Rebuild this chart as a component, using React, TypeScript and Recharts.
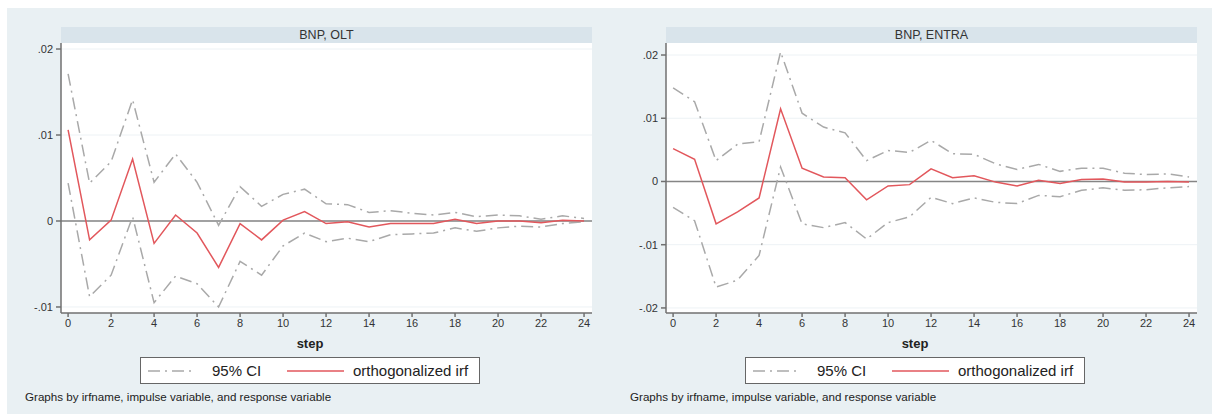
import React from 'react';
import { LineChart, Line, XAxis, YAxis, CartesianGrid, ReferenceLine } from 'recharts';

const steps = [0, 1, 2, 3, 4, 5, 6, 7, 8, 9, 10, 11, 12, 13, 14, 15, 16, 17, 18, 19, 20, 21, 22, 23, 24];
const stepTicks = [0, 2, 4, 6, 8, 10, 12, 14, 16, 18, 20, 22, 24];

// BNP -> OLT
const oltUpper = [0.0171, 0.0044, 0.0069, 0.0141, 0.0045, 0.0078, 0.0045, -0.0005, 0.004, 0.0017, 0.0031, 0.0037, 0.002, 0.0019, 0.001, 0.0012, 0.0009, 0.0007, 0.001, 0.0005, 0.0007, 0.0006, 0.0002, 0.0006, 0.0003];
const oltLower = [0.0044, -0.0088, -0.0063, 0.0005, -0.0095, -0.0064, -0.0073, -0.01, -0.0047, -0.0063, -0.0029, -0.0014, -0.0024, -0.002, -0.0024, -0.0016, -0.0015, -0.0014, -0.0008, -0.0012, -0.0008, -0.0006, -0.0007, -0.0003, -0.0001];
const oltIrf = [0.0106, -0.0022, 0.0001, 0.0072, -0.0026, 0.0007, -0.0014, -0.0054, -0.0003, -0.0022, 0.0001, 0.0011, -0.0003, -0.0001, -0.0007, -0.0003, -0.0003, -0.0003, 0.0002, -0.0003, 0, 0, -0.0002, 0.0001, 0];
const oltTicks = [-0.01, 0, 0.01, 0.02];

// BNP -> ENTRA
const entraUpper = [0.0148, 0.0126, 0.0033, 0.0059, 0.0063, 0.0205, 0.0108, 0.0086, 0.0077, 0.0033, 0.0049, 0.0046, 0.0065, 0.0044, 0.0043, 0.0028, 0.0019, 0.0027, 0.0016, 0.0021, 0.0021, 0.0013, 0.0011, 0.0012, 0.0007];
const entraLower = [-0.0041, -0.0062, -0.0167, -0.0156, -0.0117, 0.0023, -0.0067, -0.0073, -0.0065, -0.0091, -0.0065, -0.0056, -0.0025, -0.0035, -0.0026, -0.0033, -0.0035, -0.0022, -0.0024, -0.0014, -0.001, -0.0014, -0.0013, -0.001, -0.0008];
const entraIrf = [0.0052, 0.0035, -0.0067, -0.0048, -0.0026, 0.0115, 0.0021, 0.0007, 0.0006, -0.0029, -0.0007, -0.0005, 0.002, 0.0006, 0.0009, -0.0001, -0.0007, 0.0002, -0.0003, 0.0003, 0.0004, -0.0001, -0.0001, 0, -0.0001];
const entraTicks = [-0.02, -0.01, 0, 0.01, 0.02];

const FONT = '"Liberation Sans", Arial, sans-serif';
const CI_COLOR = '#a9a9a9';
const IRF_COLOR = '#e2575c';
const AXIS_COLOR = '#707070';

const fmt = (v: number) => (v === 0 ? '0' : v.toFixed(2).replace('0.', '.'));

interface PanelProps {
  title: string;
  left: number;
  upper: number[];
  lower: number[];
  irf: number[];
  yDomain: [number, number];
  yTicks: number[];
}

function Panel({ title, left, upper, lower, irf, yDomain, yTicks }: PanelProps) {
  const data = steps.map((s, i) => ({ step: s, upper: upper[i], lower: lower[i], irf: irf[i] }));
  return (
    <div style={{ position: 'absolute', left, top: 0, width: 604, height: 414 }}>
      <div
        style={{
          position: 'absolute', left: 61, top: 27, width: 531, height: 16, background: '#d9e4eb',
          fontSize: 12.5, color: '#333', textAlign: 'center', lineHeight: '16px',
        }}
      >
        {title}
      </div>
      <div style={{ position: 'absolute', left: 0, top: 0 }}>
        <LineChart width={604} height={330} data={data} margin={{ top: 43, right: 12, bottom: 0, left: 21 }}>
          <CartesianGrid vertical={false} fill="#ffffff" stroke="#edf2f5" horizontalValues={yTicks} />
          <XAxis
            dataKey="step"
            type="number"
            domain={[-0.33, 24.37]}
            ticks={stepTicks}
            height={17}
            stroke={AXIS_COLOR}
            strokeWidth={1.5}
            tickSize={4}
            tickMargin={2}
            tick={{ fontSize: 11, fill: '#333', fontFamily: FONT }}
            allowDataOverflow
          />
          <YAxis
            type="number"
            domain={yDomain}
            ticks={yTicks}
            width={40}
            stroke={AXIS_COLOR}
            strokeWidth={1.5}
            tickSize={5}
            tickMargin={3}
            tickFormatter={fmt}
            tick={{ fontSize: 11, fill: '#333', fontFamily: FONT }}
            allowDataOverflow
          />
          <ReferenceLine y={0} stroke="#858585" strokeWidth={1.5} />
          <Line type="linear" dataKey="upper" stroke={CI_COLOR} strokeWidth={1.5} strokeDasharray="12 5 2 5" dot={false} activeDot={false} isAnimationActive={false} />
          <Line type="linear" dataKey="lower" stroke={CI_COLOR} strokeWidth={1.5} strokeDasharray="12 5 2 5" dot={false} activeDot={false} isAnimationActive={false} />
          <Line type="linear" dataKey="irf" stroke={IRF_COLOR} strokeWidth={1.5} dot={false} activeDot={false} isAnimationActive={false} />
        </LineChart>
      </div>
      <div style={{ position: 'absolute', left: 282, top: 336, width: 56, textAlign: 'center', fontSize: 13, fontWeight: 'bold', color: '#222' }}>
        step
      </div>
      <div
        style={{
          position: 'absolute', left: 140, top: 357, width: 338, height: 25, background: '#fff',
          border: '1px solid #666', fontSize: 15, color: '#222',
        }}
      >
        <svg width={338} height={25} style={{ position: 'absolute', left: 0, top: 0 }}>
          <line x1={7} y1={13} x2={54} y2={13} stroke={CI_COLOR} strokeWidth={1.5} strokeDasharray="12 5 2 5" />
          <line x1={146} y1={13} x2={203} y2={13} stroke={IRF_COLOR} strokeWidth={1.7} />
        </svg>
        <span style={{ position: 'absolute', left: 71, top: 4, lineHeight: '17px' }}>95% CI</span>
        <span style={{ position: 'absolute', left: 212, top: 4, lineHeight: '17px' }}>orthogonalized irf</span>
      </div>
      <div style={{ position: 'absolute', left: 25, top: 390, fontSize: 11.6, color: '#222', whiteSpace: 'nowrap' }}>
        Graphs by irfname, impulse variable, and response variable
      </div>
    </div>
  );
}

export default function App() {
  return (
    <div style={{ position: 'absolute', left: 0, top: 0, width: 1212, height: 414, background: '#fff', fontFamily: FONT, overflow: 'hidden' }}>
      <div style={{ position: 'absolute', left: 7, top: 8, width: 1205, height: 406, background: '#e9f0f3' }} />
      <Panel title="BNP, OLT" left={0} upper={oltUpper} lower={oltLower} irf={oltIrf} yDomain={[-0.0107, 0.0207]} yTicks={oltTicks} />
      <Panel title="BNP, ENTRA" left={605} upper={entraUpper} lower={entraLower} irf={entraIrf} yDomain={[-0.0208, 0.0219]} yTicks={entraTicks} />
    </div>
  );
}
